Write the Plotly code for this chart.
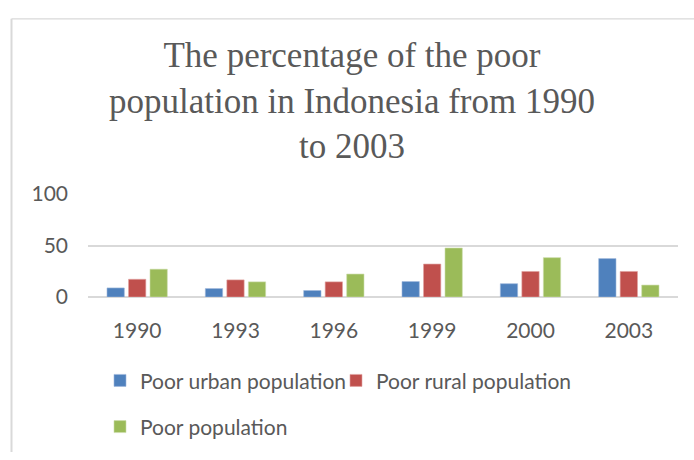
import plotly.graph_objects as go

years = ["1990", "1993", "1996", "1999", "2000", "2003"]
urban = [8.8, 8.2, 6.3, 15.0, 12.9, 37.3]
rural = [17.2, 16.6, 14.7, 32.0, 24.8, 24.8]
total = [27.0, 14.7, 22.3, 47.6, 38.2, 11.6]
yticks = [0, 50, 100]

title_text = "The percentage of the poor<br>population in Indonesia from 1990<br>to 2003"

fig = go.Figure()
fig.add_trace(go.Bar(x=years, y=urban, name="Poor urban population",
                     marker=dict(color="#4F81BD", line=dict(color="#9DB7DC", width=0.6)),
                     legend="legend"))
fig.add_trace(go.Bar(x=years, y=rural, name="Poor rural population",
                     marker=dict(color="#C0504D", line=dict(color="#E0A3A1", width=0.6)),
                     legend="legend"))
fig.add_trace(go.Bar(x=years, y=total, name="Poor population",
                     marker=dict(color="#9BBB59", line=dict(color="#CDDDAC", width=0.6)),
                     legend="legend2"))

W, H = 694, 460
L, R, T, B = 88, 16, 194, 159
pw = W - L - R
ph = H - T - B

def px_x(px):
    return (px - L) / pw

def px_y(py):
    return (H - B - py) / ph

TXT = "#595959"

fig.update_layout(
    width=W, height=H,
    margin=dict(l=L, r=R, t=T, b=B),
    paper_bgcolor="white", plot_bgcolor="white",
    barmode="group", bargap=0.344, bargroupgap=0.195,
    font=dict(family="Lato", size=21, color=TXT),
    title=dict(text=title_text, x=352 / W, xanchor="center",
               y=1 - 67 / H, yanchor="middle", yref="container",
               font=dict(family="Liberation Serif", size=35, color=TXT)),
    xaxis=dict(showgrid=False, showline=False, ticks="", ticklabelstandoff=19,
               tickfont=dict(family="Lato", size=21, color=TXT)),
    yaxis=dict(range=[0, 100], tickvals=yticks, showgrid=True, gridcolor="#D9D9D9",
               gridwidth=1.5, zeroline=True, zerolinecolor="#D9D9D9", zerolinewidth=1.5,
               showline=False, ticks="", ticklabelstandoff=19,
               tickfont=dict(family="Lato", size=21, color=TXT)),
    legend=dict(orientation="h", x=px_x(100), xanchor="left", y=px_y(388), yanchor="middle",
                entrywidth=191, entrywidthmode="pixels", itemwidth=30,
                font=dict(family="Lato", size=21, color=TXT), bgcolor="rgba(0,0,0,0)"),
    legend2=dict(orientation="h", x=px_x(100), xanchor="left", y=px_y(436), yanchor="middle",
                 itemwidth=30,
                 font=dict(family="Lato", size=21, color=TXT), bgcolor="rgba(0,0,0,0)"),
    shapes=[
        dict(type="line", xref="paper", yref="paper", x0=px_x(11.5), x1=px_x(11.5),
             y0=px_y(12), y1=px_y(462), line=dict(color="#D9D9D9", width=2)),
        dict(type="line", xref="paper", yref="paper", x0=px_x(11.5), x1=px_x(700),
             y0=px_y(12), y1=px_y(12), line=dict(color="#D9D9D9", width=1.2)),
    ],
)

fig.write_html("out.html")
